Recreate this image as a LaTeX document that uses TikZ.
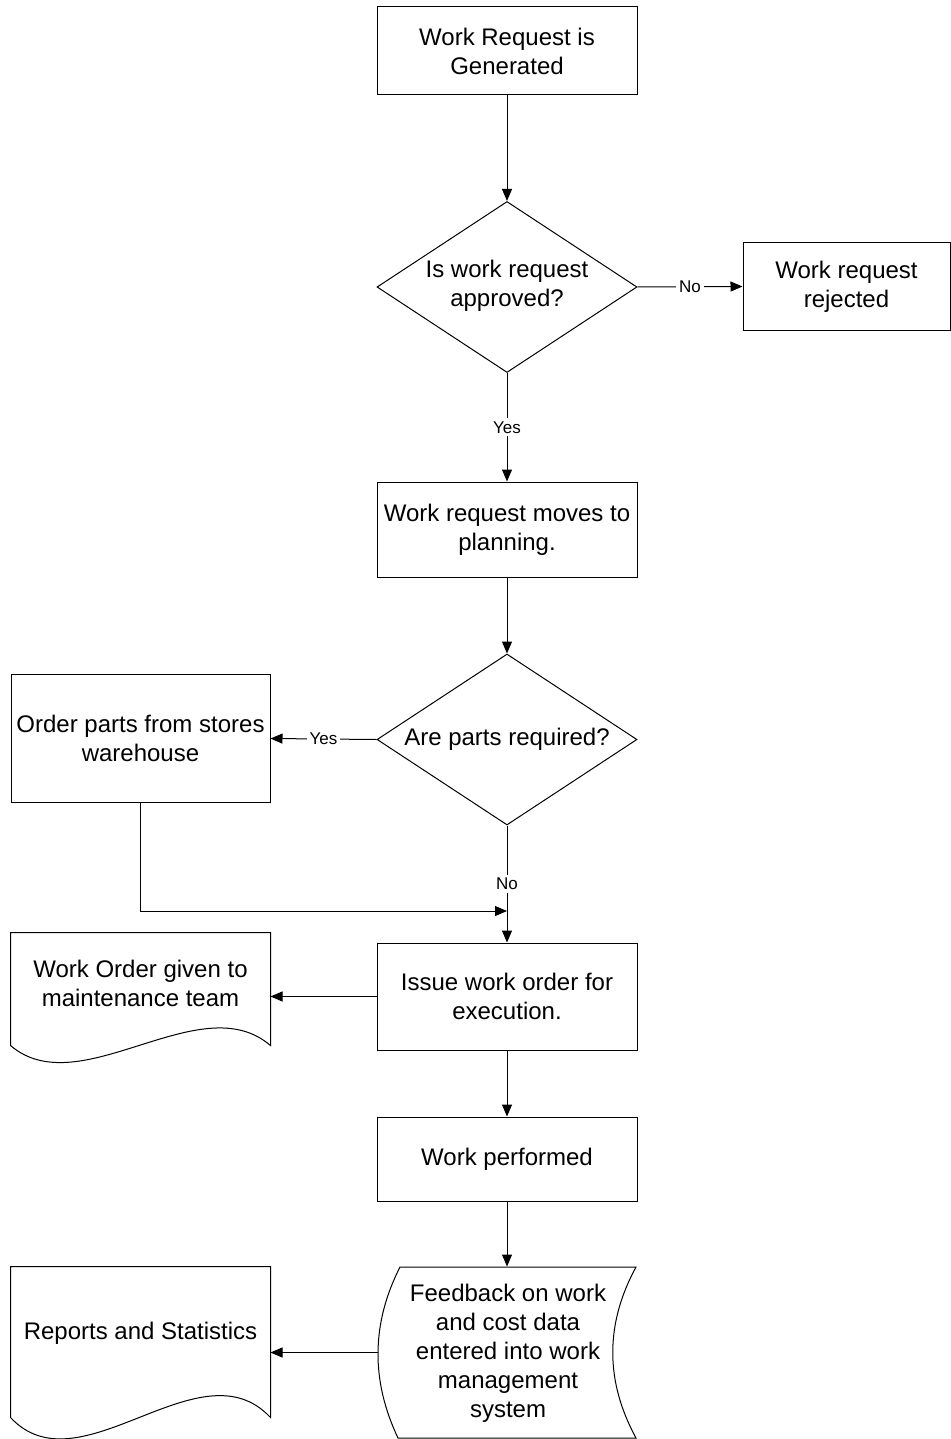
\documentclass[tikz,border=0pt]{standalone}
\usepackage{fontspec}
\setmainfont{Liberation Sans}
\usetikzlibrary{shapes.geometric,arrows.meta}
\begin{document}
\begin{tikzpicture}[x=0.5pt,y=-0.5pt,
  every path/.style={line width=0.5pt},
  txt/.style={font=\fontsize{12}{14.5}\selectfont, align=center, inner sep=0pt},
  box/.style={draw, rectangle, inner sep=0pt, txt},
  dec/.style={draw, diamond, inner sep=0pt, minimum width=130pt, minimum height=85.5pt},
  ghost/.style={rectangle, inner sep=0pt},
  lbl/.style={font=\fontsize{8.5}{10}\selectfont, fill=white, inner sep=1.5pt},
  arr/.style={-{Triangle[length=6pt,width=5pt]}},
]
\useasboundingbox (0,0) rectangle (951,1439);

% nodes
\node[box, minimum width=130pt, minimum height=44pt] (b1) at (507,51) {Work Request is\\Generated};
\node[dec] (d1) at (507,287) {};
\node[txt] at (507,286) {Is work request\\approved?};
\node[box, minimum width=103.5pt, minimum height=43.5pt] (rej) at (846.5,286.5) {Work request\\rejected};
\node[box, minimum width=130pt, minimum height=47.5pt] (b3) at (507,529.5) {Work request moves to\\planning.};
\node[dec] (d2) at (507,739.5) {};
\node[txt] at (507,739.5) {Are parts required?};
\node[box, minimum width=129.5pt, minimum height=64pt] (op) at (140.5,738.5) {Order parts from stores\\warehouse};
\node[box, minimum width=130pt, minimum height=53.5pt] (iss) at (507,996.5) {Issue work order for\\execution.};
\node[ghost, minimum width=129.5pt, minimum height=56pt] (wo) at (140.5,989) {};
\node[txt] at (140.5,983) {Work Order given to\\maintenance team};
\node[box, minimum width=130pt, minimum height=42pt] (wp) at (507,1159) {Work performed};
\node[ghost, minimum width=129pt, minimum height=85.5pt] (fb) at (507,1352.5) {};
\node[txt] at (508,1353) {Feedback on work\\and cost data\\entered into work\\management\\system};
\node[ghost, minimum width=129.5pt, minimum height=75pt] (rep) at (140.5,1342) {};
\node[txt] at (140.5,1333) {Reports and Statistics};
\coordinate (j) at (507,911);

% document shapes
\draw (wo.south west) -- (wo.north west) -- (wo.north east) -- (wo.south east)
  .. controls (200,985) and (80,1105) .. (wo.south west) -- cycle;
\draw (rep.south west) -- (rep.north west) -- (rep.north east) -- (rep.south east)
  .. controls (200,1342) and (80,1492) .. (rep.south west) -- cycle;
% stored data shape
\draw (400,1267) -- (636,1267) .. controls (605,1324) and (605,1381) .. (636,1438)
  -- (398,1438) .. controls (371,1381) and (371,1324) .. (400,1267) -- cycle;

% connectors
\draw[arr] (b1.south) -- (d1.north);
\draw[arr] (d1.east) -- node[lbl]{No} (rej.west);
\draw[arr] (d1.south) -- node[lbl]{Yes} (b3.north);
\draw[arr] (b3.south) -- (d2.north);
\draw[arr] (d2.west) -- node[lbl]{Yes} (op.east);
\draw[arr] (d2.south) -- node[lbl]{No} (iss.north);
\draw[arr] (op.south) |- (j);
\draw[arr] (iss.west) -- (iss.west -| wo.east);
\draw[arr] (iss.south) -- (wp.north);
\draw[arr] (wp.south) -- (fb.north);
\draw[arr] (fb.west) -- (fb.west -| rep.east);
\end{tikzpicture}
\end{document}
